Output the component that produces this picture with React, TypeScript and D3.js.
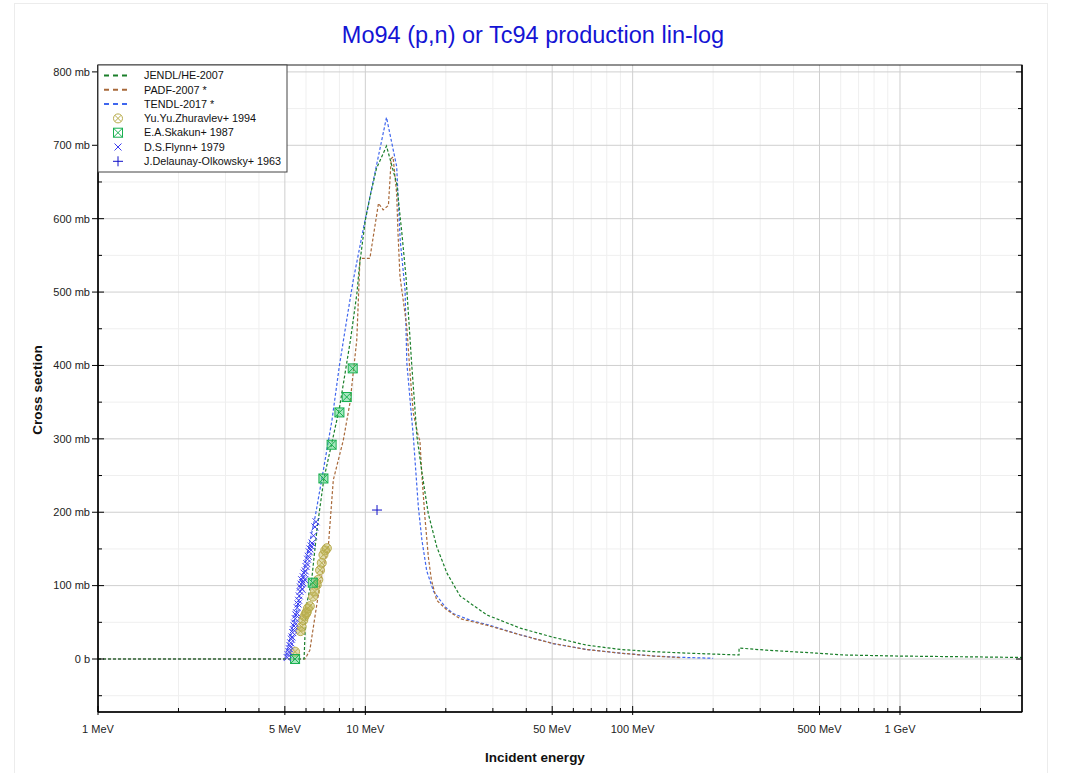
import React from "react";
import * as d3 from "d3";

const W = 1071;
const H = 773;

const titleText = "Mo94 (p,n) or Tc94 production lin-log";
const xTitle = "Incident energy";
const yTitle = "Cross section";

const xTickValues = [1, 5, 10, 50, 100, 500, 1000];
const xTickLabels = ["1 MeV", "5 MeV", "10 MeV", "50 MeV", "100 MeV", "500 MeV", "1 GeV"];
const xMinorValues = [2, 3, 4, 6, 7, 8, 9, 20, 30, 40, 60, 70, 80, 90, 200, 300, 400, 600, 700, 800, 900, 2000];
const yTickValues = [0, 100, 200, 300, 400, 500, 600, 700, 800];
const yTickLabels = ["0 b", "100 mb", "200 mb", "300 mb", "400 mb", "500 mb", "600 mb", "700 mb", "800 mb"];
const yMinorValues = [-50, 50, 150, 250, 350, 450, 550, 650, 750];

// Evaluated data [E (MeV), sigma (mb)]
const jendl: [number, number][] = [
  [1, 0], [5.9, 0], [6.0, 70], [6.3, 108], [6.6, 178], [7.0, 246], [7.5, 295], [8.0, 342],
  [8.8, 435], [9.3, 498], [9.5, 535], [10.0, 598], [10.5, 636], [11.0, 668], [12.0, 699],
  [13.1, 648], [13.7, 580], [14.2, 520], [14.9, 403], [15.6, 303], [16.3, 253], [17.2, 198],
  [18.5, 153], [20.2, 117], [22.6, 86], [24.7, 76], [28.5, 60], [38, 42], [50, 30], [67, 19],
  [90, 13], [120, 10], [160, 8], [250, 5.5], [250, 15], [317, 12], [488, 8], [614, 5.5],
  [1000, 4], [1778, 3], [3000, 2],
];
const padf: [number, number][] = [
  [1, 0], [5.95, 0], [6.2, 12], [6.45, 53], [6.77, 103], [7.27, 153], [7.59, 244], [8.27, 298],
  [8.77, 350], [9.29, 435], [9.55, 546], [10.4, 546], [11.2, 621], [11.66, 612], [12.2, 618],
  [12.5, 682], [12.7, 684], [13.1, 634], [13.25, 580], [13.48, 521], [14.29, 453], [14.7, 389],
  [15.12, 335], [15.79, 303], [16.0, 298], [16.26, 253], [16.7, 194], [17.21, 139], [17.66, 108],
  [18.5, 80], [20.16, 67], [22.6, 55], [28.5, 46], [37.9, 33], [50.5, 21], [67, 13], [90, 8],
  [120, 4], [150, 2],
];
const tendl: [number, number][] = [
  [1, 0], [5.0, 0], [5.5, 60], [6.0, 135], [6.5, 195], [7.0, 262], [7.5, 325], [8.0, 400],
  [8.5, 460], [9.0, 515], [10.0, 600], [11.0, 672], [12.0, 738], [13.1, 671], [13.5, 571],
  [14.08, 503], [14.3, 403], [14.7, 353], [15.12, 303], [15.79, 207], [16.28, 162], [16.97, 120],
  [18.0, 92], [19.9, 71], [21.3, 62], [24.65, 53], [29.2, 46], [37.9, 33], [50.5, 21], [67, 13],
  [90, 8], [120, 4], [160, 2], [200, 1],
];

// Experimental data [E (MeV), sigma (mb)]
const zhuravlev: [number, number][] = [
  [5.46, 10], [5.72, 38], [5.78, 44], [5.86, 53], [5.92, 58], [6.0, 62], [6.04, 64], [6.1, 69],
  [6.2, 72], [6.37, 85], [6.48, 92], [6.58, 101], [6.67, 108], [6.77, 121], [6.87, 131],
  [6.97, 142], [7.08, 148], [7.18, 151],
];
const skakun: [number, number][] = [
  [5.46, 0], [6.36, 104], [6.97, 246], [7.48, 292], [8.0, 336], [8.52, 357], [8.97, 396],
];
const flynn: [number, number][] = [
  [5.1, 2], [5.14, 6], [5.18, 10], [5.2, 14], [5.23, 18], [5.26, 22], [5.29, 27], [5.32, 30],
  [5.35, 36], [5.38, 40], [5.41, 45], [5.44, 49], [5.47, 55], [5.5, 60], [5.53, 63], [5.56, 70],
  [5.6, 75], [5.63, 80], [5.66, 86], [5.7, 92], [5.72, 98], [5.75, 102], [5.78, 108], [5.8, 95],
  [5.83, 104], [5.86, 112], [5.9, 117], [5.93, 108], [5.96, 120], [6.0, 126], [6.04, 130],
  [6.08, 136], [6.12, 140], [6.17, 146], [6.21, 150], [6.27, 154], [6.32, 158], [6.4, 168],
  [6.48, 180], [6.54, 187],
];
const delaunay: [number, number][] = [[11.06, 203]];

const C_JENDL = "#1a7f2a";
const C_PADF = "#a8693a";
const C_TENDL = "#3f66ee";
const C_ZH = "#b8ac4c";
const C_SK = "#18b050";
const C_FL = "#3a3af0";
const C_DE = "#1010c8";

const L = 98, R = 1022, T = 65, B = 712;
const FONT = "'Liberation Sans', Arial, Helvetica, sans-serif";

export default function App() {
  const x = d3.scaleLog().domain([1, 2860]).range([L, R]);
  const y = d3.scaleLinear().domain([-72.2, 809.4]).range([B, T]);
  const line = d3.line<[number, number]>().x((d) => x(d[0])).y((d) => y(d[1]));

  const majorV = [1, 5, 10, 50, 100, 500, 1000];

  const legendItems = [
    { label: "JENDL/HE-2007", kind: "line", color: C_JENDL },
    { label: "PADF-2007 *", kind: "line", color: C_PADF },
    { label: "TENDL-2017 *", kind: "line", color: C_TENDL },
    { label: "Yu.Yu.Zhuravlev+ 1994", kind: "zh", color: C_ZH },
    { label: "E.A.Skakun+ 1987", kind: "sk", color: C_SK },
    { label: "D.S.Flynn+ 1979", kind: "fl", color: C_FL },
    { label: "J.Delaunay-Olkowsky+ 1963", kind: "de", color: C_DE },
  ];

  const marker = (kind: string, cx: number, cy: number, key: any, legend = false) => {
    if (kind === "zh") {
      const r = 4.5;
      const k = r * 0.7;
      return (
        <g key={key} stroke={C_ZH} strokeWidth={1} fill="none">
          <circle cx={cx} cy={cy} r={r} fill={legend ? "none" : "rgba(195,185,95,0.5)"} />
          <line x1={cx - k} y1={cy - k} x2={cx + k} y2={cy + k} />
          <line x1={cx - k} y1={cy + k} x2={cx + k} y2={cy - k} />
        </g>
      );
    }
    if (kind === "sk") {
      const s = 4.5;
      return (
        <g key={key} stroke={C_SK} strokeWidth={1}>
          <rect
            x={cx - s}
            y={cy - s}
            width={2 * s}
            height={2 * s}
            fill={legend ? "none" : "rgba(60,200,110,0.45)"}
          />
          <line x1={cx - s} y1={cy - s} x2={cx + s} y2={cy + s} />
          <line x1={cx - s} y1={cy + s} x2={cx + s} y2={cy - s} />
        </g>
      );
    }
    if (kind === "fl") {
      const s = 3.5;
      return (
        <g key={key} stroke={C_FL} strokeWidth={1}>
          <line x1={cx - s} y1={cy - s} x2={cx + s} y2={cy + s} />
          <line x1={cx - s} y1={cy + s} x2={cx + s} y2={cy - s} />
        </g>
      );
    }
    const s = 5;
    return (
      <g key={key} stroke={C_DE} strokeWidth={1}>
        <line x1={cx - s} y1={cy} x2={cx + s} y2={cy} />
        <line x1={cx} y1={cy - s} x2={cx} y2={cy + s} />
      </g>
    );
  };

  return (
    <svg
      width={W}
      height={H}
      style={{ position: "absolute", left: 0, top: 0, background: "#fff" }}
      fontFamily={FONT}
    >
      <rect x={14.5} y={3.5} width={1033} height={790} fill="#fff" stroke="#ececec" />
      <defs>
        <clipPath id="plotclip">
          <rect x={L} y={T} width={R - L} height={B - T} />
        </clipPath>
      </defs>

      {/* grid */}
      {xMinorValues.map((v) => (
        <line key={"gvm" + v} x1={x(v)} x2={x(v)} y1={T} y2={B} stroke="#efefef" strokeWidth={1} />
      ))}
      {yMinorValues.map((v) => (
        <line key={"ghm" + v} x1={L} x2={R} y1={y(v)} y2={y(v)} stroke="#efefef" strokeWidth={1} />
      ))}
      {majorV.map((v) => (
        <line key={"gv" + v} x1={x(v)} x2={x(v)} y1={T} y2={B} stroke="#cfcfcf" strokeWidth={1} />
      ))}
      {yTickValues.map((v) => (
        <line key={"gh" + v} x1={L} x2={R} y1={y(v)} y2={y(v)} stroke="#cfcfcf" strokeWidth={1} />
      ))}

      {/* curves */}
      <g clipPath="url(#plotclip)" fill="none" strokeWidth={1.2} strokeDasharray="3,2">
        <path d={line(tendl) || ""} stroke={C_TENDL} />
        <path d={line(padf) || ""} stroke={C_PADF} />
        <path d={line(jendl) || ""} stroke={C_JENDL} />
      </g>

      {/* markers */}
      <g clipPath="url(#plotclip)">
        {zhuravlev.map((d, i) => marker("zh", x(d[0]), y(d[1]), "zh" + i))}
        {skakun.map((d, i) => marker("sk", x(d[0]), y(d[1]), "sk" + i))}
        {flynn.map((d, i) => marker("fl", x(d[0]), y(d[1]), "fl" + i))}
        {delaunay.map((d, i) => marker("de", x(d[0]), y(d[1]), "de" + i))}
      </g>

      {/* frame */}
      <rect x={L} y={T} width={R - L} height={B - T} fill="none" stroke="#222" strokeWidth={1} />
      <line x1={L} x2={L} y1={T} y2={B} stroke="#000" strokeWidth={1.5} />
      <line x1={L} x2={R} y1={B} y2={B} stroke="#000" strokeWidth={1.5} />
      <line x1={R} x2={R} y1={T} y2={B} stroke="#000" strokeWidth={1.5} />

      {/* y ticks */}
      {yTickValues.map((v, i) => (
        <g key={"yt" + v}>
          <line x1={L - 6} x2={L + 6} y1={y(v)} y2={y(v)} stroke="#000" />
          <line x1={R - 6} x2={R} y1={y(v)} y2={y(v)} stroke="#000" />
          <text x={L - 8} y={y(v)} dy="0.35em" textAnchor="end" fontSize={11} fill="#222">
            {yTickLabels[i]}
          </text>
        </g>
      ))}
      {yMinorValues.map((v) => (
        <g key={"ytm" + v}>
          <line x1={L} x2={L + 4} y1={y(v)} y2={y(v)} stroke="#000" />
          <line x1={R - 4} x2={R} y1={y(v)} y2={y(v)} stroke="#000" />
        </g>
      ))}

      {/* x ticks */}
      {xTickValues.map((v, i) => (
        <g key={"xt" + v}>
          <line x1={x(v)} x2={x(v)} y1={B - 6} y2={B + 3} stroke="#000" />
          <text x={x(v)} y={B + 21} textAnchor="middle" fontSize={11} fill="#222">
            {xTickLabels[i]}
          </text>
        </g>
      ))}
      {xMinorValues.map((v) => (
        <line key={"xtm" + v} x1={x(v)} x2={x(v)} y1={B - 4} y2={B} stroke="#000" />
      ))}

      {/* axis titles */}
      <text x={535} y={762} textAnchor="middle" fontSize={13.5} fontWeight="bold" fill="#111">
        {xTitle}
      </text>
      <text
        transform={`translate(42,390) rotate(-90)`}
        textAnchor="middle"
        fontSize={13.5}
        fontWeight="bold"
        fill="#111"
      >
        {yTitle}
      </text>

      {/* title */}
      <text x={533} y={43} textAnchor="middle" fontSize={23.5} fill="#1414d4">
        {titleText}
      </text>

      {/* legend */}
      <g>
        <rect x={L} y={T} width={189} height={107} fill="#fff" stroke="#444" strokeWidth={1} />
        {legendItems.map((it, i) => {
          const cy = 75.5 + i * 14.3;
          return (
            <g key={"lg" + i}>
              {it.kind === "line" ? (
                <line
                  x1={104}
                  x2={131}
                  y1={cy}
                  y2={cy}
                  stroke={it.color}
                  strokeWidth={2}
                  strokeDasharray="5,4"
                />
              ) : (
                marker(it.kind, 118, cy, "lm" + i, true)
              )}
              <text x={144} y={cy} dy="0.35em" fontSize={10.8} fill="#111">
                {it.label}
              </text>
            </g>
          );
        })}
      </g>
    </svg>
  );
}
